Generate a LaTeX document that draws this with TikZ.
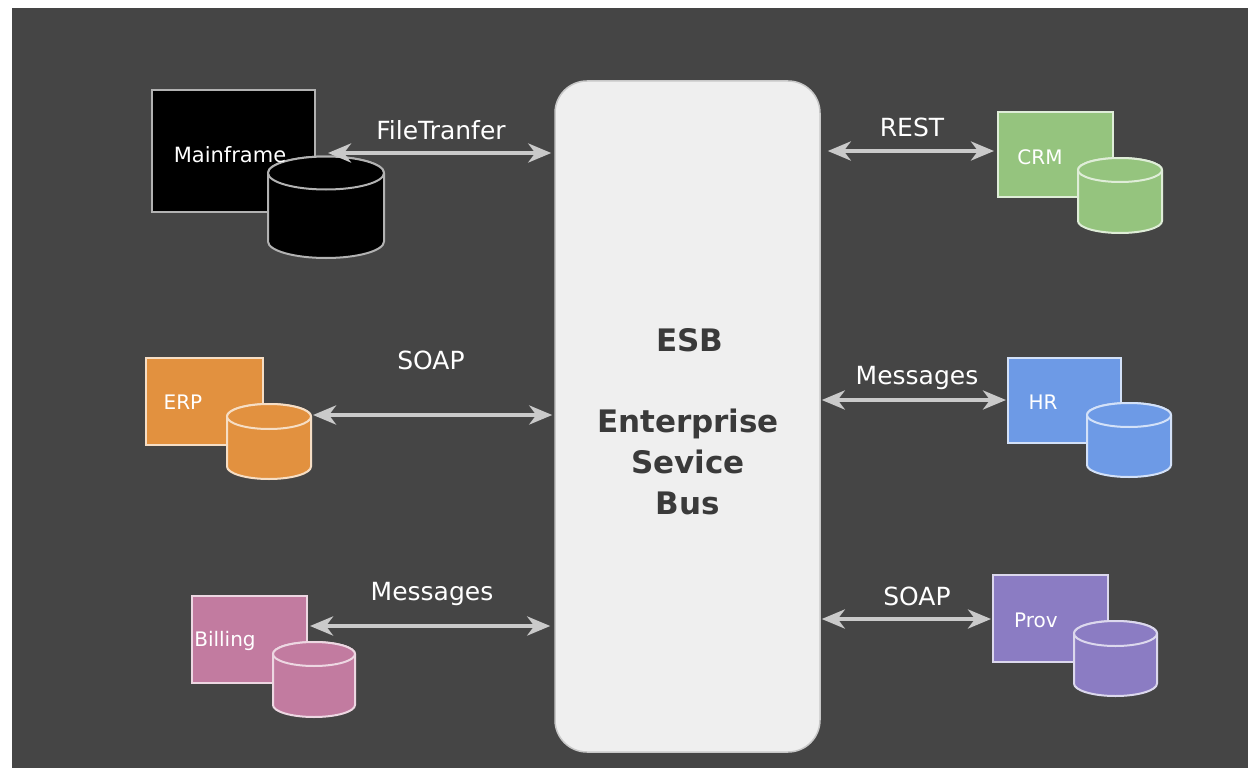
\documentclass[tikz,border=0pt]{standalone}
\usepackage{fontspec}
\setmainfont{DejaVu Sans}
\usetikzlibrary{arrows.meta}

\definecolor{canvas}{HTML}{454545}
\definecolor{busfill}{HTML}{EFEFEF}
\definecolor{busline}{HTML}{C8C8C8}
\definecolor{linkcol}{HTML}{CACACA}
\definecolor{bustext}{HTML}{3A3A3A}
\definecolor{mfcol}{HTML}{000000}
\definecolor{crmcol}{HTML}{95C47E}
\definecolor{erpcol}{HTML}{E2913F}
\definecolor{hrcol}{HTML}{6D9AE6}
\definecolor{billcol}{HTML}{C27BA0}
\definecolor{provcol}{HTML}{8B7CC3}

\tikzset{
  sysbox/.style={draw=#1!30!white, fill=#1, line width=2pt, inner sep=0pt},
  dbbody/.style={draw=#1!30!white, fill=#1, line width=2pt},
  systext/.style={text=white, font=\fontsize{20}{24}\selectfont, inner sep=0pt},
  linklabel/.style={text=white, font=\fontsize{25}{29}\selectfont, inner sep=0pt},
  link/.style={draw=linkcol, line width=4pt,
    {Stealth[length=23pt,width=19pt,inset=7pt]}-{Stealth[length=23pt,width=19pt,inset=7pt]}},
  bustxt/.style={text=bustext, font=\fontsize{31}{41}\selectfont\bfseries, align=center, inner sep=0pt}
}

% database drum: name, centre x, top-ellipse centre y, x radius, y radius, body height, colour
\newcommand\dbshape[7]{%
  \coordinate (#1) at (#2,#3);
  \filldraw[dbbody=#7] (#2-#4,#3) -- ++(0,#6)
    arc[start angle=180, end angle=0, x radius=#4, y radius=#5] -- ++(0,-#6)
    arc[start angle=0, end angle=-180, x radius=#4, y radius=#5] -- cycle;
  \draw[dbbody=#7] (#1) ellipse[x radius=#4, y radius=#5];
}

\begin{document}
\begin{tikzpicture}[x=1pt, y=-1pt]
  % page and dark canvas
  \useasboundingbox (0,0) rectangle (1248,768);
  \fill[white] (0,0) rectangle (1248,768);
  \fill[canvas] (12,8) rectangle (1248,768);

  % enterprise service bus
  \node[draw=busline, fill=busfill, line width=1.5pt, rounded corners=32pt,
        minimum width=265pt, minimum height=671pt, inner sep=0pt] (esb) at (687.5,416.5) {};
  \node[bustxt] (esbtitle) at (690,340) {ESB};
  \node[bustxt] (esbname) at (688,462) {Enterprise\\Sevice\\Bus};

  % Mainframe
  \node[sysbox=mfcol, minimum width=163pt, minimum height=122pt] (mf) at (233.5,151) {};
  \dbshape{mfdb}{326}{173}{58}{16.5}{68.5}{mfcol}
  \node[systext, font=\fontsize{21}{24}\selectfont] (mft) at (230,155) {Mainframe};

  % CRM
  \node[sysbox=crmcol, minimum width=115pt, minimum height=85pt] (crm) at (1055.5,154.5) {};
  \dbshape{crmdb}{1120}{170}{42}{12}{51}{crmcol}
  \node[systext] (crmt) at (1040,157) {CRM};

  % ERP
  \node[sysbox=erpcol, minimum width=117pt, minimum height=87pt] (erp) at (204.5,401.5) {};
  \dbshape{erpdb}{269}{416.5}{42}{12.5}{50}{erpcol}
  \node[systext] (erpt) at (183,402) {ERP};

  % HR
  \node[sysbox=hrcol, minimum width=113pt, minimum height=85pt] (hr) at (1064.5,400.5) {};
  \dbshape{hrdb}{1129}{415}{42}{12}{50}{hrcol}
  \node[systext] (hrt) at (1043,402) {HR};

  % Billing
  \node[sysbox=billcol, minimum width=115pt, minimum height=87pt] (bill) at (249.5,639.5) {};
  \dbshape{billdb}{314}{654}{41}{12}{51}{billcol}
  \node[systext] (billt) at (225,641) {Billing};

  % Prov
  \node[sysbox=provcol, minimum width=115pt, minimum height=87pt] (prov) at (1050.5,618.5) {};
  \dbshape{provdb}{1115.5}{633.5}{41.5}{12.5}{50}{provcol}
  \node[systext] (provt) at (1036,620) {Prov};

  % connector end points on the system side
  \coordinate (mfend) at (328,153);
  \coordinate (crmend) at (994,151);
  \coordinate (erpend) at (313,415);
  \coordinate (hrend) at (1006,400);
  \coordinate (billend) at (310,626);
  \coordinate (provend) at (991,619);

  % connectors
  \draw[link] (mfend) -- ([xshift=-3pt]esb.west |- mfend);
  \draw[link] ([xshift=7pt]esb.east |- crmend) -- (crmend);
  \draw[link] (erpend) -- ([xshift=-2pt]esb.west |- erpend);
  \draw[link] ([xshift=1pt]esb.east |- hrend) -- (hrend);
  \draw[link] (billend) -- ([xshift=-4pt]esb.west |- billend);
  \draw[link] ([xshift=1pt]esb.east |- provend) -- (provend);

  % connector labels
  \node[linklabel] (l1) at (441,130) {FileTranfer};
  \node[linklabel] (l2) at (912,127) {REST};
  \node[linklabel] (l3) at (431,360) {SOAP};
  \node[linklabel] (l4) at (917,378) {Messages};
  \node[linklabel] (l5) at (432,594) {Messages};
  \node[linklabel] (l6) at (917,596) {SOAP};
\end{tikzpicture}
\end{document}
